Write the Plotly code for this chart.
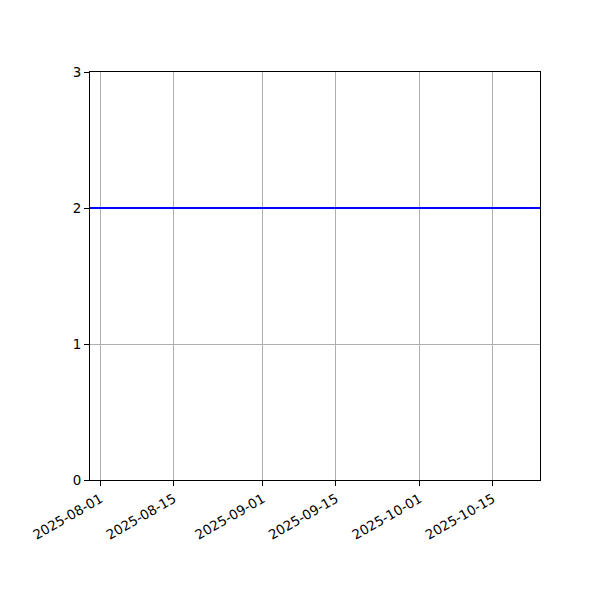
import plotly.graph_objects as go

dates = ["2025-07-30", "2025-10-24"]
values = [2, 2]
tick_dates = ["2025-08-01", "2025-08-15", "2025-09-01", "2025-09-15", "2025-10-01", "2025-10-15"]
y_ticks = [0, 1, 2, 3]

fig = go.Figure()
fig.add_trace(go.Scatter(x=dates, y=values, mode="lines",
                         line=dict(color="#0000ff", width=2), showlegend=False))

axis_common = dict(
    showline=True, linecolor="black", linewidth=1, mirror=True,
    ticks="outside", ticklen=5, tickwidth=1, tickcolor="black",
    showgrid=True, gridcolor="#b0b0b0", gridwidth=1, zeroline=False,
    tickfont=dict(family="DejaVu Sans", size=13.4, color="black"),
)

fig.update_layout(
    width=600, height=600,
    margin=dict(l=82, r=68, t=64, b=128),
    paper_bgcolor="white", plot_bgcolor="white",
    xaxis=dict(type="date", range=["2025-07-30", "2025-10-24"],
               tickvals=tick_dates, ticktext=tick_dates, tickangle=-30,
               **axis_common),
    yaxis=dict(range=[0, 3], tickvals=y_ticks, **axis_common),
)

fig.write_html("out.html")
